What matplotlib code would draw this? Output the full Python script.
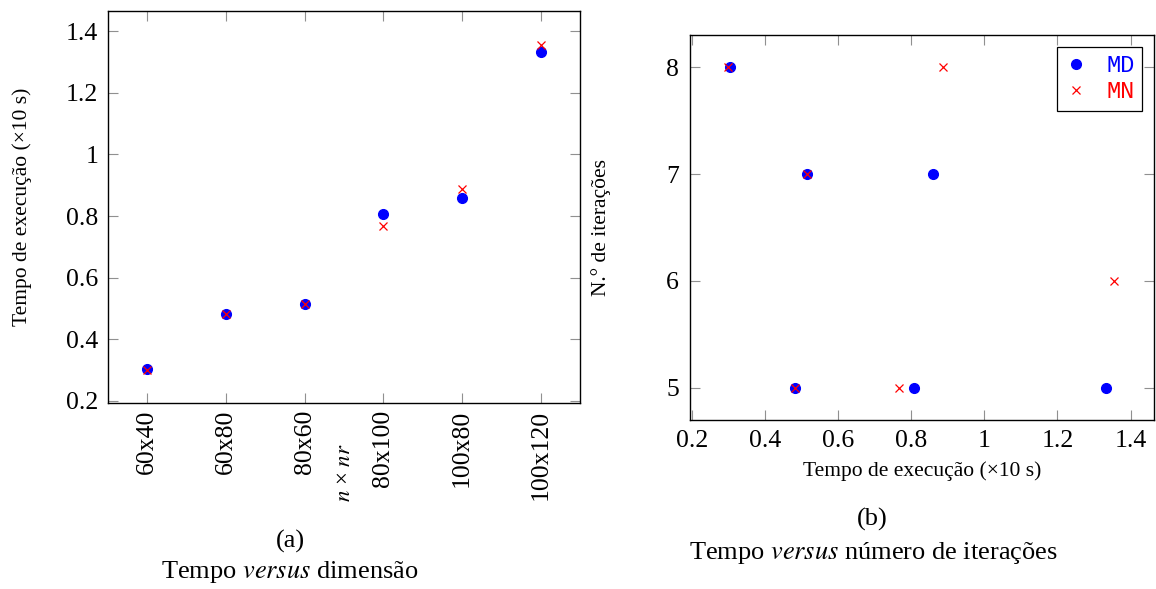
import matplotlib
matplotlib.use("Agg")
from matplotlib import pyplot as plt

plt.rcParams['font.family'] = ['Liberation Serif', 'DejaVu Serif']
plt.rcParams['mathtext.fontset'] = 'stix'

# dados
dims = ['60x40', '60x80', '80x60', '80x100', '100x80', '100x120']
tempo_md = [0.305, 0.483, 0.515, 0.808, 0.860, 1.333]
tempo_mn = [0.300, 0.482, 0.515, 0.766, 0.888, 1.355]
iter_md = [8, 5, 7, 5, 7, 5]
iter_mn = [8, 5, 7, 5, 8, 6]

W, H = 1156, 589
fig = plt.figure(figsize=(W / 100, H / 100), dpi=100)

tick_fs = 18.5
lab_fs = 15.5
cap_fs = 19

def box(x0, y0, x1, y1):
    return [x0 / W, 1 - y1 / H, (x1 - x0) / W, (y1 - y0) / H]

def style(ax):
    for s in ax.spines.values():
        s.set_linewidth(1.0)
    ax.tick_params(which='both', direction='in', length=7, width=0.8,
                   color='#909090', top=True, right=True, labelsize=tick_fs, pad=7)

# (a)
ax1 = fig.add_axes(box(108, 11, 580, 403))
pos = list(range(len(dims)))
ax1.plot(pos, tempo_md, 'o', color='blue', markersize=7)
ax1.plot(pos, tempo_mn, 'x', color='red', markersize=5.5, markeredgewidth=0.9)
ax1.set_xlim(-0.5, 5.5)
ax1.set_ylim(0.1935, 1.465)
ax1.set_xticks(pos)
ax1.set_xticklabels(dims, rotation=90)
ax1.set_yticks([0.2, 0.4, 0.6, 0.8, 1.0, 1.2, 1.4])
ax1.set_yticklabels(['0.2', '0.4', '0.6', '0.8', '1', '1.2', '1.4'])
style(ax1)
ax1.tick_params(axis='x', pad=5)
ax1.set_ylabel('Tempo de execução (×10 s)', fontsize=lab_fs)
ax1.yaxis.set_label_coords(-0.162, 0.5)
fig.text(344 / W, 1 - 502 / H, r'$n$ × $nr$', rotation=90,
         ha='center', va='bottom', fontsize=lab_fs + 1)
fig.text(290 / W, 1 - 541 / H, '(a)', ha='center', va='center', fontsize=cap_fs)
fig.text(290 / W, 1 - 572 / H, r'Tempo $\mathit{versus}$ dimensão',
         ha='center', va='center', fontsize=cap_fs)

# (b)
ax2 = fig.add_axes(box(690, 35, 1154, 420))
ax2.plot(tempo_md, iter_md, 'o', color='blue', markersize=7, label='MD')
ax2.plot(tempo_mn, iter_mn, 'x', color='red', markersize=5.5,
         markeredgewidth=0.9, label='MN')
ax2.set_xlim(0.195, 1.464)
ax2.set_ylim(4.7, 8.3)
ax2.set_xticks([0.2, 0.4, 0.6, 0.8, 1.0, 1.2, 1.4])
ax2.set_xticklabels(['0.2', '0.4', '0.6', '0.8', '1', '1.2', '1.4'])
ax2.set_yticks([5, 6, 7, 8])
style(ax2)
ax2.tick_params(axis='y', pad=8)
ax2.set_xlabel('Tempo de execução (×10 s)', fontsize=lab_fs)
ax2.xaxis.set_label_coords(0.5, -0.107)
ax2.set_ylabel('N.° de iterações', fontsize=lab_fs)
ax2.yaxis.set_label_coords(-0.170, 0.5)
leg = ax2.legend(loc='upper right', fancybox=False, edgecolor='black',
                 framealpha=1, prop={'family': 'Liberation Mono', 'size': 17},
                 handlelength=1.0, handletextpad=0.8, borderpad=0.3,
                 labelspacing=0.15, borderaxespad=0.5)
leg.get_frame().set_linewidth(0.9)
for t, c in zip(leg.get_texts(), ['blue', 'red']):
    t.set_color(c)
fig.text(872 / W, 1 - 519 / H, '(b)', ha='center', va='center', fontsize=cap_fs)
fig.text(873 / W, 1 - 553 / H, r'Tempo $\mathit{versus}$ número de iterações',
         ha='center', va='center', fontsize=cap_fs)

fig.savefig('out.png', dpi=100)
